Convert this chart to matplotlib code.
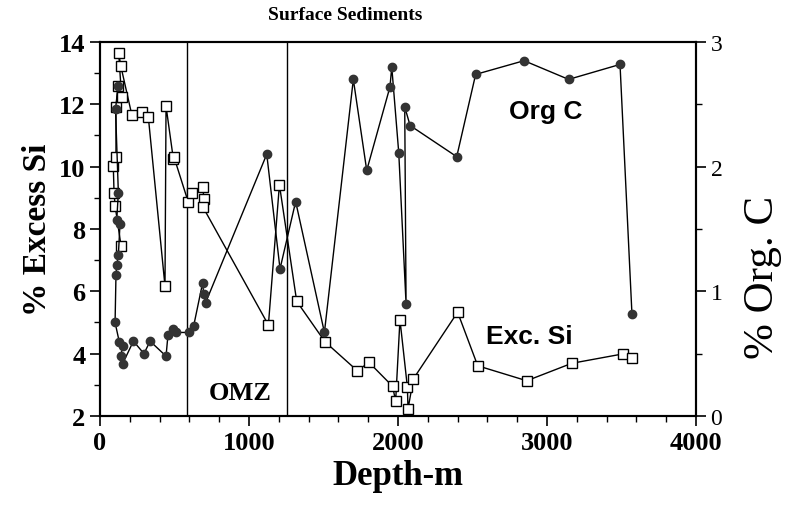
import numpy as np
import matplotlib.pyplot as plt
from matplotlib.ticker import MultipleLocator

# excess Si (left axis)
depth_si = [141, 101, 94, 89, 107, 107, 123, 145, 125, 139,
            213, 280, 324, 436, 443, 492, 497, 593, 620, 689, 698, 689,
            1130, 1204, 1320, 1510, 1727, 1805, 1964, 1984, 2013, 2063,
            2067, 2103, 2400, 2535, 2864, 3166, 3508, 3573]
exc_si = [7.46, 8.75, 9.17, 10.03, 10.3, 11.9, 12.6, 12.22, 13.66, 13.24,
          11.67, 11.74, 11.6, 6.17, 11.94, 10.25, 10.3, 8.85, 9.15, 9.34, 8.96, 8.72,
          4.92, 9.42, 5.68, 4.38, 3.45, 3.72, 2.95, 2.47, 5.09, 2.92,
          2.22, 3.19, 5.33, 3.61, 3.13, 3.69, 3.99, 3.86]

# organic carbon (right axis)
depth_c = [121, 104, 123, 112, 134, 123, 112, 107, 101, 130, 152, 139, 152,
           224, 295, 336, 443, 456, 492, 510, 600, 628, 689, 695, 709,
           1119, 1208, 1313, 1506, 1700, 1790, 1946, 1958, 2005, 2054, 2045,
           2081, 2394, 2521, 2846, 3145, 3490, 3570]
org_c = [2.65, 2.46, 1.79, 1.57, 1.54, 1.29, 1.21, 1.13, 0.75, 0.59, 0.56, 0.48, 0.42,
         0.60, 0.50, 0.60, 0.48, 0.65, 0.70, 0.67, 0.67, 0.72, 1.07, 0.98, 0.91,
         2.10, 1.18, 1.72, 0.67, 2.70, 1.97, 2.64, 2.80, 2.11, 0.90, 2.48,
         2.33, 2.08, 2.74, 2.85, 2.70, 2.82, 0.82]

omz = [585, 1255]

serif = 'Liberation Serif'
sans = 'Liberation Sans'

fig = plt.figure(figsize=(7.92, 5.1), dpi=100)
ax = fig.add_axes([0.1263, 0.1824, 0.7525, 0.7333])
ax2 = ax.twinx()

ax.plot(depth_si, exc_si, color='black', lw=1, marker='s', markersize=7,
        markerfacecolor='white', markeredgecolor='black', markeredgewidth=1, zorder=3)
ax2.plot(depth_c, org_c, color='black', lw=1, marker='o', markersize=6,
         markerfacecolor='#333333', markeredgecolor='#333333', zorder=3)

for d in omz:
    ax.axvline(d, color='black', lw=1)

ax.set_xlim(0, 4000)
ax.set_ylim(2, 14)
ax2.set_ylim(0, 3)

ax.xaxis.set_major_locator(MultipleLocator(1000))
ax.xaxis.set_minor_locator(MultipleLocator(200))
ax.yaxis.set_major_locator(MultipleLocator(2))
ax.yaxis.set_minor_locator(MultipleLocator(1))
ax2.yaxis.set_major_locator(MultipleLocator(1))
ax2.yaxis.set_minor_locator(MultipleLocator(0.5))

ax.tick_params(which='major', direction='out', length=7, width=1.2)
ax.tick_params(which='minor', direction='out', length=4, width=1)
ax2.tick_params(which='major', direction='out', length=7, width=1.2)
ax2.tick_params(which='minor', direction='out', length=4, width=1)

for lab in ax.get_xticklabels() + ax.get_yticklabels():
    lab.set_fontfamily(serif)
    lab.set_fontweight('bold')
    lab.set_fontsize(19)
for lab in ax2.get_yticklabels():
    lab.set_fontfamily(serif)
    lab.set_fontsize(17)

for sp in ax.spines.values():
    sp.set_linewidth(1.5)
for sp in ax2.spines.values():
    sp.set_linewidth(1.5)

ax.set_xlabel('Depth-m', fontfamily=serif, fontweight='bold', fontsize=25)
ax.set_ylabel('% Excess Si', fontfamily=serif, fontweight='bold', fontsize=24)
ax2.set_ylabel('% Org. C', fontfamily=serif, fontsize=31)
ax2.yaxis.set_label_coords(1.08, 0.374)
fig.text(0.436, 0.97, 'Surface Sediments', fontfamily=serif, fontweight='bold',
         fontsize=14, ha='center', va='center')

ax2.text(2990, 2.45, 'Org C', fontfamily=sans, fontweight='bold', fontsize=19,
         ha='center', va='center')
ax2.text(2880, 0.64, 'Exc. Si', fontfamily=sans, fontweight='bold', fontsize=19,
         ha='center', va='center')
ax.text(940, 2.75, 'OMZ', fontfamily=serif, fontweight='bold', fontsize=19,
        ha='center', va='center')

fig.savefig('out.png', dpi=100)
